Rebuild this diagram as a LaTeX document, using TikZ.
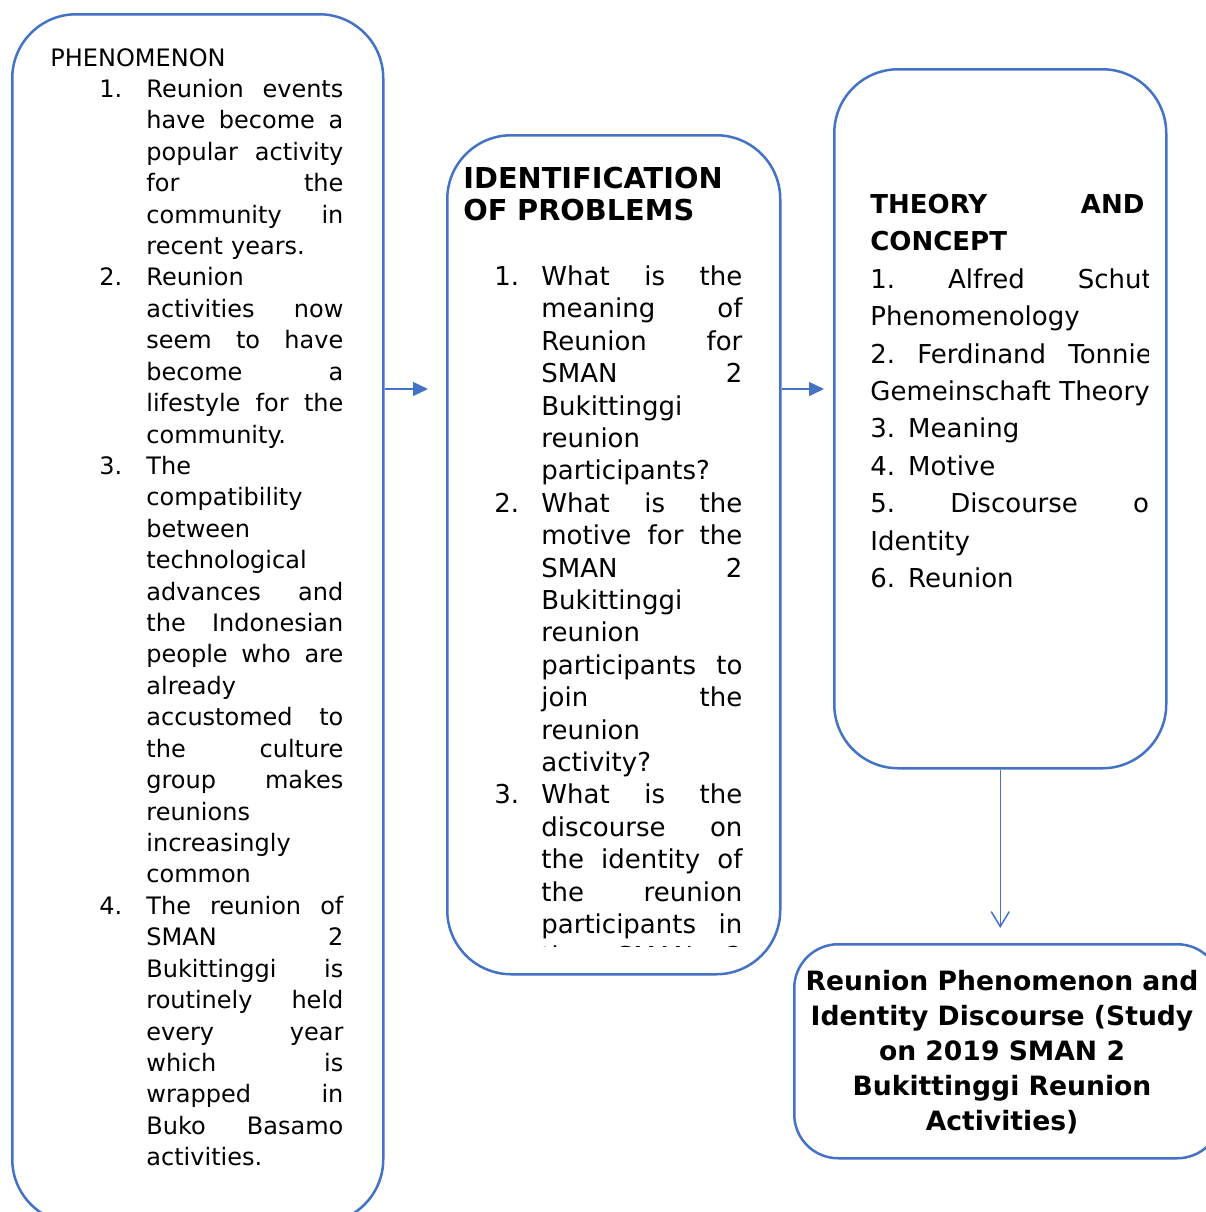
\documentclass[tikz,border=0pt]{standalone}
\usepackage{fontspec}
\setmainfont{DejaVu Sans}
\usetikzlibrary{arrows.meta}

\definecolor{boxblue}{HTML}{4472C4}

\tikzset{
  panel/.style={draw=boxblue, line width=1.25pt, rounded corners=32pt, inner sep=0pt, anchor=north west},
  txt/.style={inner sep=0pt, anchor=base west, align=left},
  flow/.style={draw=boxblue, line width=0.75pt, -{Triangle[length=7.5pt,width=7pt]}},
  drop/.style={draw=boxblue, line width=0.75pt, -{Straight Barb[length=7.5pt,width=9pt]}}
}

% justified line of a given width
\newcommand{\jrow}[2]{\leavevmode\hbox to #1{\spaceskip=0.3em plus 1fil\xspaceskip=\spaceskip\relax #2}}
% list rows of the three columns
\newcommand{\phitem}[2]{\hspace*{24.5pt}\makebox[23.5pt][l]{#1}#2}
\newcommand{\phjust}[1]{\jrow{98.5pt}{#1}}
\newcommand{\miditem}[2]{\makebox[23.5pt][l]{#1}#2}
\newcommand{\midjust}[1]{\jrow{100.5pt}{#1}}

\begin{document}
\begin{tikzpicture}[x=0.5pt, y=-0.5pt]
\useasboundingbox (0,0) rectangle (1206,1212);
\clip (0,0) rectangle (1206,1212);

% Draw the four boxes
\node[panel, minimum width=185.5pt, minimum height=604.5pt] (phen) at (11,13) {};
\node[panel, minimum width=166.5pt, minimum height=419.5pt] (iden) at (446,134) {};
\node[panel, minimum width=166pt, minimum height=349.5pt] (theory) at (833,68) {};
\node[panel, rounded corners=22pt, minimum width=213.5pt, minimum height=107pt] (result) at (793,943) {};

% Phenomenon list
\node[txt, text width=146.5pt, font=\fontsize{12}{15.71}\selectfont] (phentxt) at (50,66) {%
PHENOMENON\\
\phitem{1.}{\phjust{Reunion events}}\\
\phitem{}{\phjust{have become a}}\\
\phitem{}{\phjust{popular activity}}\\
\phitem{}{\phjust{for the}}\\
\phitem{}{\phjust{community in}}\\
\phitem{}{recent years.}\\
\phitem{2.}{Reunion}\\
\phitem{}{\phjust{activities now}}\\
\phitem{}{\phjust{seem to have}}\\
\phitem{}{\phjust{become a}}\\
\phitem{}{\phjust{lifestyle for the}}\\
\phitem{}{community.}\\
\phitem{3.}{The}\\
\phitem{}{compatibility}\\
\phitem{}{between}\\
\phitem{}{technological}\\
\phitem{}{\phjust{advances and}}\\
\phitem{}{\phjust{the Indonesian}}\\
\phitem{}{\phjust{people who are}}\\
\phitem{}{already}\\
\phitem{}{\phjust{accustomed to}}\\
\phitem{}{\phjust{the culture}}\\
\phitem{}{\phjust{group makes}}\\
\phitem{}{reunions}\\
\phitem{}{increasingly}\\
\phitem{}{common}\\
\phitem{4.}{\phjust{The reunion of}}\\
\phitem{}{\phjust{SMAN 2}}\\
\phitem{}{\phjust{Bukittinggi is}}\\
\phitem{}{\phjust{routinely held}}\\
\phitem{}{\phjust{every year}}\\
\phitem{}{\phjust{which is}}\\
\phitem{}{\phjust{wrapped in}}\\
\phitem{}{\phjust{Buko Basamo}}\\
\phitem{}{activities.}};

% Identification of problems
\node[txt, text width=160pt, font=\bfseries\fontsize{14.4}{16}\selectfont] (identhead) at (463,188) {IDENTIFICATION\\OF PROBLEMS};
\begin{scope}
\clip (446,134) rectangle (779,946);
\node[txt, text width=124pt, font=\fontsize{13}{16.2}\selectfont] (identtxt) at (494,285.5) {%
\miditem{1.}{\midjust{What is the}}\\
\miditem{}{\midjust{meaning of}}\\
\miditem{}{\midjust{Reunion for}}\\
\miditem{}{\midjust{SMAN 2}}\\
\miditem{}{Bukittinggi}\\
\miditem{}{reunion}\\
\miditem{}{participants?}\\
\miditem{2.}{\midjust{What is the}}\\
\miditem{}{\midjust{motive for the}}\\
\miditem{}{\midjust{SMAN 2}}\\
\miditem{}{Bukittinggi}\\
\miditem{}{reunion}\\
\miditem{}{\midjust{participants to}}\\
\miditem{}{\midjust{join the}}\\
\miditem{}{reunion}\\
\miditem{}{activity?}\\
\miditem{3.}{\midjust{What is the}}\\
\miditem{}{\midjust{discourse on}}\\
\miditem{}{\midjust{the identity of}}\\
\miditem{}{\midjust{the reunion}}\\
\miditem{}{\midjust{participants in}}\\
\miditem{}{\midjust{the SMAN 2}}};
\end{scope}

% Theory and concept
\begin{scope}
\clip (833,68) rectangle (1148,767);
\node[txt, text width=147.5pt, font=\fontsize{13}{18.7}\selectfont] (theorytxt) at (870,213.5) {%
\textbf{\jrow{137pt}{THEORY AND}}\\
\textbf{CONCEPT}\\
\jrow{147.5pt}{1. Alfred Schutz}\\
Phenomenology\\
\jrow{147.5pt}{2. Ferdinand Tonnies}\\
Gemeinschaft Theory\\
3. Meaning\\
4. Motive\\
\jrow{147.5pt}{5. Discourse on}\\
Identity\\
6. Reunion};
\end{scope}

% Result
\node[inner sep=0pt, align=center, font=\bfseries\fontsize{13.3}{17.5}\selectfont] (resulttxt) at (1002,1052) {Reunion Phenomenon and\\Identity Discourse (Study\\on 2019 SMAN 2\\Bukittinggi Reunion\\Activities)};

% Connections
\coordinate (lvl) at (0,389);
\draw[flow, shorten >=9pt] (phen.east |- lvl) -- (iden.west |- lvl);
\draw[flow, shorten >=4.5pt] (iden.east |- lvl) -- (theory.west |- lvl);
\draw[drop, shorten >=7.5pt] (theory.south) -- (result.north -| theory.south);

\end{tikzpicture}
\end{document}
